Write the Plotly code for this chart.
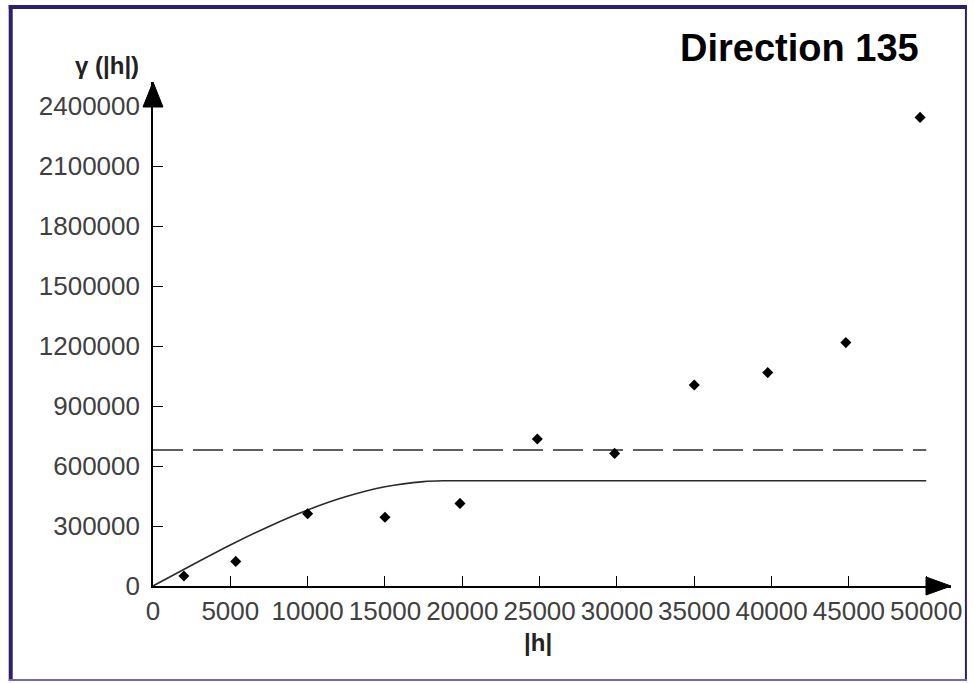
import plotly.graph_objects as go

# Experimental variogram points (lag distance |h|, gamma)
lag_h = [2000, 5350, 10000, 15000, 19850, 24850, 29850, 35000, 39750, 44800, 49600]
gamma_exp = [50000, 123000, 361000, 344000, 413000, 735000, 663000, 1005000, 1067000, 1217000, 2343000]

# Fitted model curve
model_h = [0, 2500, 5000, 7500, 10000, 12500, 15000, 17500, 18800, 22000, 50000]
model_gamma = [0, 104000, 205000, 298000, 380000, 447000, 496000, 522000, 526000, 526000, 526000]

# Sample variance (dashed line)
variance_h = [0, 50000]
variance_gamma = [680000, 680000]

x_ticks = list(range(0, 50001, 5000))
y_ticks = list(range(0, 2400001, 300000))
x_max = 51600
y_max = 2520000

title_text = "Direction 135"
y_title = "γ (|h|)"
x_title = "|h|"

W, H = 974, 683
ml, mr, mt, mb = 153, 19, 82, 97
pw, ph = W - ml - mr, H - mt - mb


def px(xp):
    return (xp - ml) / pw


def py(yp):
    return (H - mb - yp) / ph


fig = go.Figure()
fig.add_trace(go.Scatter(x=variance_h, y=variance_gamma, mode="lines",
                         line=dict(color="#2a2a2a", width=1.6, dash="30px,10px"),
                         hoverinfo="skip"))
fig.add_trace(go.Scatter(x=model_h, y=model_gamma, mode="lines",
                         line=dict(color="#2a2a2a", width=1.6, shape="spline", smoothing=0.8),
                         hoverinfo="skip"))
fig.add_trace(go.Scatter(x=lag_h, y=gamma_exp, mode="markers",
                         marker=dict(symbol="diamond", size=8.5, color="black")))

tickfont = dict(family="Liberation Sans, Arial, sans-serif", size=26, color="#404040")

fig.update_layout(
    width=W, height=H,
    margin=dict(l=ml, r=mr, t=mt, b=mb, pad=0),
    paper_bgcolor="white", plot_bgcolor="white",
    showlegend=False,
    xaxis=dict(range=[0, x_max], tickvals=x_ticks, ticktext=[str(v) for v in x_ticks],
               showgrid=False, zeroline=False, showline=True, linecolor="black",
               linewidth=1.6, ticks="inside", ticklen=10, tickwidth=1.4, tickcolor="black",
               tickfont=tickfont, ticklabelstandoff=1, fixedrange=True),
    yaxis=dict(range=[0, y_max], tickvals=y_ticks, ticktext=[str(v) for v in y_ticks],
               showgrid=False, zeroline=False, showline=True, linecolor="black",
               linewidth=1.6, ticks="inside", ticklen=10, tickwidth=1.4, tickcolor="black",
               tickfont=tickfont, ticklabelstandoff=6, fixedrange=True),
)

# Axis arrowheads (paper-referenced so they are not clipped by the plot area)
fig.add_shape(type="path", xref="paper", yref="paper", xsizemode="pixel", ysizemode="pixel",
              xanchor=0, yanchor=1, path="M -10,-25 L 10,-25 L 0,0 Z",
              fillcolor="black", line=dict(color="black", width=1))
fig.add_shape(type="path", xref="paper", yref="paper", xsizemode="pixel", ysizemode="pixel",
              xanchor=1, yanchor=0, path="M 0,0 L -25,9 L -25,-9 Z",
              fillcolor="black", line=dict(color="black", width=1))

# Frame
frame_dark = "#2b1f6e"
frame_light = "#7468bd"
fig.add_shape(type="line", xref="paper", yref="paper", x0=px(8), x1=px(971), y0=py(7), y1=py(7),
              line=dict(color=frame_dark, width=4))
fig.add_shape(type="line", xref="paper", yref="paper", x0=px(10), x1=px(10), y0=py(5), y1=py(681),
              line=dict(color=frame_dark, width=4))
fig.add_shape(type="line", xref="paper", yref="paper", x0=px(970), x1=px(970), y0=py(5), y1=py(681),
              line=dict(color=frame_dark, width=2))
fig.add_shape(type="line", xref="paper", yref="paper", x0=px(8), x1=px(971), y0=py(680), y1=py(680),
              line=dict(color=frame_light, width=2))

fig.add_annotation(text=title_text, xref="paper", yref="paper", x=px(803), y=py(48),
                   xanchor="center", yanchor="middle", showarrow=False,
                   font=dict(family="Liberation Sans, Arial, sans-serif", size=38, color="black",
                             weight="bold"))
fig.add_annotation(text=y_title, xref="paper", yref="paper", x=px(141), y=py(66),
                   xanchor="right", yanchor="middle", showarrow=False,
                   font=dict(family="Liberation Sans, Arial, sans-serif", size=24, color="#222",
                             weight="bold"))
fig.add_annotation(text=x_title, xref="paper", yref="paper", x=px(540), y=py(642),
                   xanchor="center", yanchor="middle", showarrow=False,
                   font=dict(family="Liberation Sans, Arial, sans-serif", size=24, color="#222",
                             weight="bold"))

fig.write_html("out.html", config={"displayModeBar": False},
               post_script="document.body.style.margin='0';document.body.style.overflow='hidden';")
